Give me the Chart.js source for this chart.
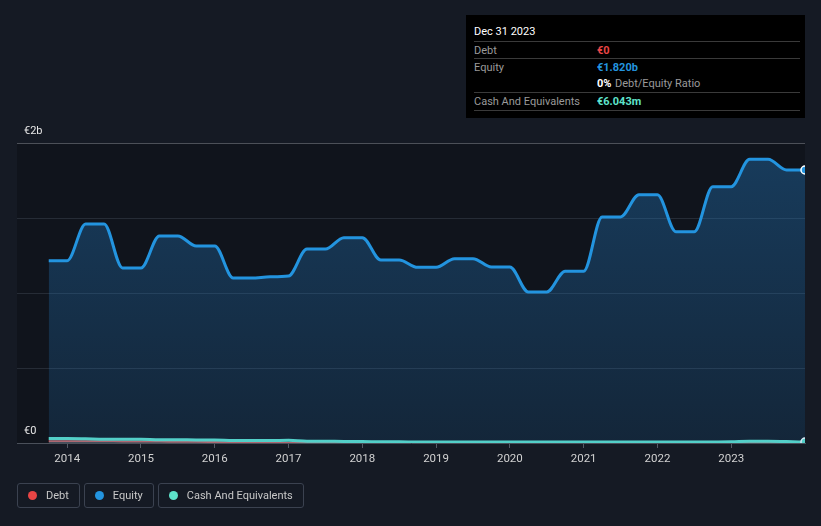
<!DOCTYPE html>
<html>
<head>
<meta charset="utf-8">
<script src="https://cdn.jsdelivr.net/npm/chart.js@4"></script>
<style>
  html, body { margin: 0; padding: 0; background: #151a24; }
  body { width: 821px; height: 526px; position: relative; overflow: hidden; font-family: Roboto, "Noto Sans", sans-serif; }
  #chart { position: absolute; left: 0; top: 0; }
  .tip { position: absolute; left: 466px; top: 15px; width: 339px; height: 103px; background: #000; font-size: 11px; color: #9a9a9a; }
  .tip .hd { position: absolute; left: 8px; top: 10px; color: #fff; font-size: 11px; }
  .tip .row { position: absolute; left: 8px; right: 5px; border-top: 1px solid #3a3a3a; height: 17px; }
  .tip .row span { position: absolute; top: 2px; }
  .tip .val { left: 123px; font-weight: bold; }
  .legend { position: absolute; top: 483px; left: 17px; display: flex; gap: 4px; }
  .legend div { border: 1px solid #3b4250; border-radius: 3px; height: 23px; padding: 0 10px 0 10px; display: flex; align-items: center; color: #c8c8c8; font-size: 11px; }
  .legend i { width: 9px; height: 9px; border-radius: 50%; display: inline-block; margin-right: 9px; }
</style>
</head>
<body>
<canvas id="chart" width="821" height="526"></canvas>

<div class="tip">
  <div class="hd">Dec 31 2023</div>
  <div class="row" style="top:26px"><span>Debt</span><span class="val" style="color:#e84545">€0</span></div>
  <div class="row" style="top:43px"><span>Equity</span><span class="val" style="color:#2394df">€1.820b</span></div>
  <div class="row" style="top:60px;border-top:none"><span class="val" style="color:#fff">0%</span><span style="left:141px">Debt/Equity Ratio</span></div>
  <div class="row" style="top:77px;height:17px;border-bottom:1px solid #3a3a3a"><span>Cash And Equivalents</span><span class="val" style="color:#5ee3cb">€6.043m</span></div>
</div>

<div class="legend">
  <div><i style="background:#e84545"></i>Debt</div>
  <div><i style="background:#2394df"></i>Equity</div>
  <div><i style="background:#5ee3cb"></i>Cash And Equivalents</div>
</div>

<script>
// quarter ends
const periods = [
  '2013-09', '2013-12', '2014-03', '2014-06', '2014-09', '2014-12',
  '2015-03', '2015-06', '2015-09', '2015-12', '2016-03', '2016-06',
  '2016-09', '2016-12', '2017-03', '2017-06', '2017-09', '2017-12',
  '2018-03', '2018-06', '2018-09', '2018-12', '2019-03', '2019-06',
  '2019-09', '2019-12', '2020-03', '2020-06', '2020-09', '2020-12',
  '2021-03', '2021-06', '2021-09', '2021-12', '2022-03', '2022-06',
  '2022-09', '2022-12', '2023-03', '2023-06', '2023-09', '2023-12'
];

// values in €b
const equity = [
  1.215, 1.215, 1.46, 1.46, 1.167, 1.167,
  1.38, 1.38, 1.313, 1.313, 1.10, 1.10,
  1.108, 1.113, 1.293, 1.293, 1.369, 1.369,
  1.22, 1.22, 1.171, 1.171, 1.229, 1.229,
  1.173, 1.173, 1.007, 1.007, 1.145, 1.145,
  1.507, 1.507, 1.655, 1.655, 1.409, 1.409,
  1.709, 1.709, 1.891, 1.891, 1.82, 1.82
];

const cash = [
  0.030, 0.030, 0.028, 0.025, 0.025, 0.025,
  0.022, 0.022, 0.020, 0.020, 0.016, 0.016,
  0.016, 0.018, 0.012, 0.012, 0.010, 0.010,
  0.008, 0.008, 0.007, 0.007, 0.007, 0.007,
  0.007, 0.007, 0.007, 0.007, 0.007, 0.007,
  0.007, 0.007, 0.007, 0.007, 0.007, 0.007,
  0.007, 0.008, 0.012, 0.012, 0.010, 0.006
];

const debt = [
  0.012, 0.012, 0.012, 0.012, 0.010, 0.010,
  0.010, 0.008, 0.008, 0.006, 0.004, 0.002,
  0, 0, 0, 0, 0, 0,
  0, 0, 0, 0, 0, 0,
  0, 0, 0, 0, 0, 0,
  0, 0, 0, 0, 0, 0,
  0, 0, 0, 0, 0, 0
];

const yearTicks = [2014, 2015, 2016, 2017, 2018, 2019, 2020, 2021, 2022, 2023];

// "2013-09" -> 2013.75 (quarter end as fraction of year)
const toX = p => {
  const [y, m] = p.split('-').map(Number);
  return y + m / 12;
};
const pts = arr => arr.map((v, i) => ({ x: toX(periods[i]), y: v }));
const lastOnly = r => periods.map((_, i) => i === periods.length - 1 ? r : 0);

const plotBg = {
  id: 'plotBg',
  beforeDraw(chart) {
    const { ctx, chartArea: a } = chart;
    ctx.save();
    ctx.fillStyle = '#10141c';
    ctx.fillRect(a.left, a.top, a.right - a.left, a.bottom - a.top);
    ctx.restore();
  }
};

const ctx = document.getElementById('chart').getContext('2d');
const grad = ctx.createLinearGradient(0, 143, 0, 443);
grad.addColorStop(0, 'rgba(35,120,190,0.4)');
grad.addColorStop(1, 'rgba(35,120,190,0.18)');

new Chart(ctx, {
  type: 'line',
  data: {
    datasets: [
      {
        label: 'Equity',
        data: pts(equity),
        borderColor: '#2394df',
        backgroundColor: grad,
        borderWidth: 3,
        fill: 'origin',
        cubicInterpolationMode: 'monotone',
        pointRadius: lastOnly(4),
        pointBackgroundColor: '#2394df',
        pointBorderColor: '#ffffff',
        pointBorderWidth: 1.5,
        order: 1
      },
      {
        label: 'Cash And Equivalents',
        data: pts(cash),
        borderColor: '#5ee3cb',
        backgroundColor: 'rgba(94,227,203,0.2)',
        borderWidth: 3,
        fill: 'origin',
        cubicInterpolationMode: 'monotone',
        pointRadius: lastOnly(4),
        pointBackgroundColor: '#5ee3cb',
        pointBorderColor: '#ffffff',
        pointBorderWidth: 1.5,
        order: 2
      },
      {
        label: 'Debt',
        data: pts(debt),
        borderColor: '#e84545',
        borderWidth: 2,
        fill: false,
        cubicInterpolationMode: 'monotone',
        pointRadius: 0,
        order: 3
      }
    ]
  },
  options: {
    responsive: false,
    animation: false,
    layout: { padding: { left: 17, right: 16, top: 143, bottom: 53 } },
    plugins: { legend: { display: false }, tooltip: { enabled: false } },
    scales: {
      x: {
        type: 'linear',
        min: 2013.32,
        max: 2024.0,
        afterBuildTicks: s => { s.ticks = yearTicks.map(v => ({ value: v })); },
        afterFit: s => { s.height = 30; },
        ticks: {
          color: '#d2d2d2',
          font: { family: 'Roboto', size: 11.5 },
          padding: 4,
          maxRotation: 0,
          callback: v => String(v)
        },
        grid: { drawOnChartArea: false, tickLength: 5, color: '#555b66' },
        border: { color: '#4a505a', width: 1 }
      },
      y: {
        min: 0,
        max: 2,
        afterBuildTicks: s => { s.ticks = [0, 0.5, 1, 1.5, 2].map(v => ({ value: v })); },
        afterFit: s => { s.width = 0; },
        ticks: {
          mirror: true,
          padding: 7,
          labelOffset: -12,
          color: '#e6e6e6',
          font: { family: 'Roboto', size: 11 },
          callback: v => v === 0 ? '€0' : (v === 2 ? '€2b' : '')
        },
        grid: {
          drawTicks: false,
          color: ctx => ctx.tick.value === 2 ? '#4c5058' : (ctx.tick.value === 0 ? 'rgba(0,0,0,0)' : '#262c36')
        },
        border: { display: false }
      }
    }
  },
  plugins: [plotBg]
});
</script>
</body>
</html>
